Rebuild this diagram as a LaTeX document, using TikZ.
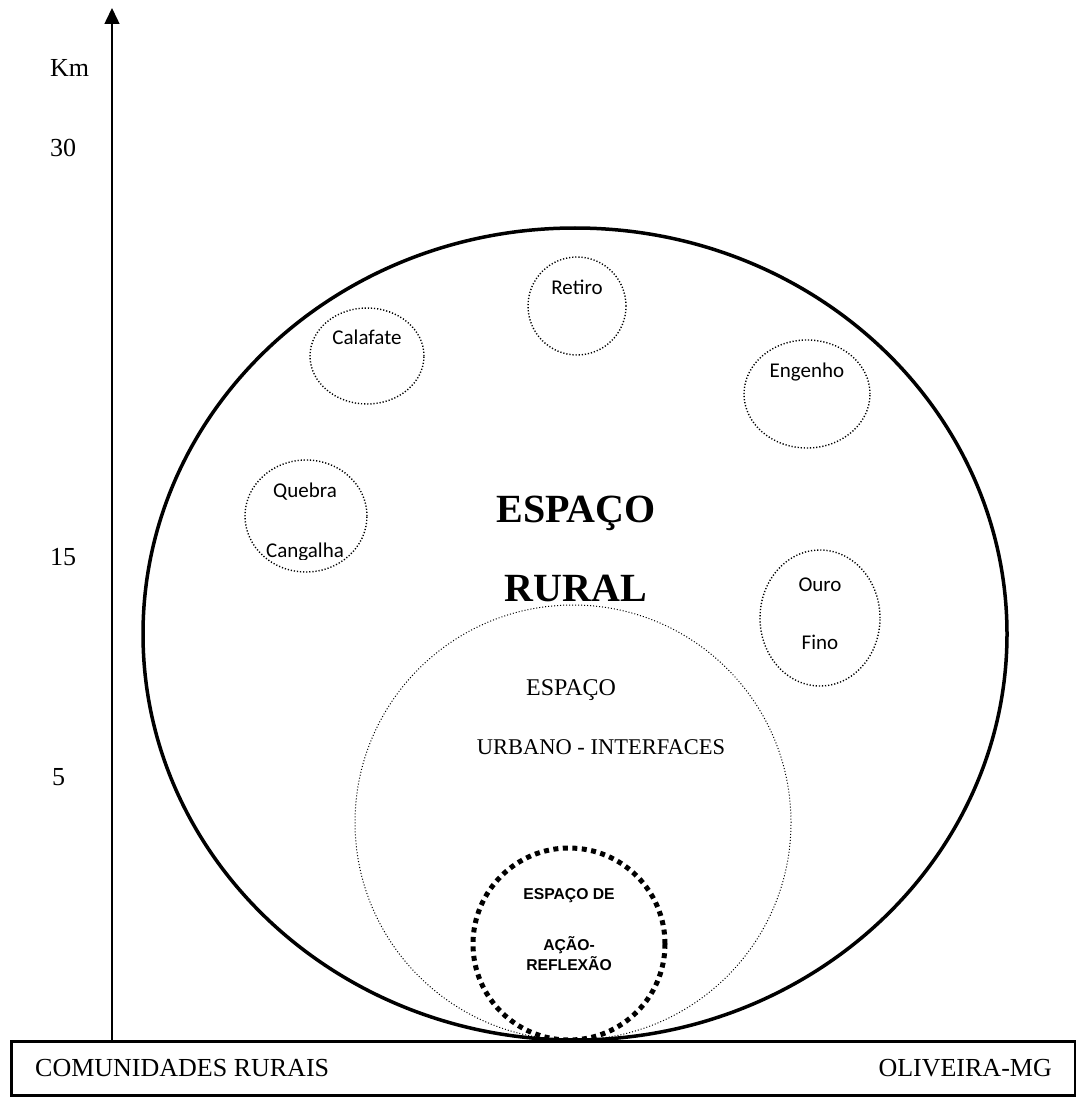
\documentclass[tikz,border=0pt]{standalone}
\usepackage{fontspec}
\setmainfont{Liberation Serif}
\newfontfamily\calibrifont{Carlito}
\newfontfamily\arialfont{Liberation Sans}
\usetikzlibrary{shapes.geometric,arrows.meta}
\tikzset{
  ring/.style={shape=ellipse, inner sep=0pt, draw},
  bigring/.style={ring, line width=3.5pt},
  smallring/.style={ring, line width=1.4pt, dash pattern=on 1.2pt off 1.9pt},
  urbring/.style={ring, line width=1pt, dash pattern=on 1pt off 2pt},
  actring/.style={ring, line width=5pt, dash pattern=on 5pt off 4.5pt},
  timeslbl/.style={font=\fontsize{26}{30}\selectfont, inner sep=0pt},
  bigtitle/.style={font=\fontsize{40}{46}\selectfont\bfseries, inner sep=0pt},
  urbtxt/.style={font=\fontsize{24}{28}\selectfont, inner sep=0pt},
  comtxt/.style={font=\calibrifont\fontsize{21}{24}\selectfont, inner sep=0pt},
  acttxt/.style={font=\arialfont\bfseries\fontsize{15.7}{18}\selectfont, inner sep=0pt},
}
\begin{document}
\begin{tikzpicture}[x=1pt,y=-1pt]
\useasboundingbox (0,0) rectangle (1075,1099);
% base box
\node[draw, line width=2.5pt, minimum width=1064pt, minimum height=54pt, inner sep=0pt, anchor=north west] (base) at (10,1040) {};
\node[timeslbl, anchor=west] (com) at (35,1068) {COMUNIDADES RURAIS};
\node[timeslbl, anchor=east] (oli) at (1052,1068) {OLIVEIRA-MG};
% axis
\coordinate (axbot) at (112,1040);
\coordinate (axtop) at (112,8);
\draw[line width=1.5pt, -{Triangle[width=15pt,length=16pt]}] (axbot) -- (axtop);
\node[timeslbl, anchor=west] (km) at (50,68) {Km};
\node[timeslbl, anchor=west] (l30) at (50,148) {30};
\node[timeslbl, anchor=west] (l15) at (50,557) {15};
\node[timeslbl, anchor=west] (l5) at (52,777) {5};
% big rural circle
\node[bigring, minimum width=864pt, minimum height=812pt] (rural) at (575,634) {};
\node[bigtitle] (esp1) at (576,513) {ESPAÇO};
\node[bigtitle] (rur) at (576,588) {RURAL};
% urban circle
\node[urbring, minimum width=436pt, minimum height=435pt] (urb) at (573,822.5) {};
\node[urbtxt] (esp2) at (571,690) {ESPAÇO};
\node[urbtxt, font=\fontsize{22.5}{26}\selectfont] (urbt) at (601,747) {URBANO - INTERFACES};
% action circle
\node[actring, minimum width=192pt, minimum height=192pt] (act) at (569,944) {};
\node[acttxt] (act1) at (569,896) {ESPAÇO DE};
\node[acttxt] (act2) at (569,945) {AÇÃO-};
\node[acttxt] (act3) at (569,964) {REFLEXÃO};
% communities
\node[smallring, minimum width=114pt, minimum height=96pt] (cal) at (367,356) {};
\node[comtxt] (calt) at (367,337) {Calafate};
\node[smallring, minimum width=98pt, minimum height=98pt] (ret) at (577,306) {};
\node[comtxt] (rett) at (577,287) {Retiro};
\node[smallring, minimum width=126pt, minimum height=108pt] (eng) at (807,394) {};
\node[comtxt] (engt) at (807,372) {Engenho};
\node[smallring, minimum width=120pt, minimum height=136pt] (ouro) at (820,618) {};
\node[comtxt] (ourt) at (820,585) {Ouro};
\node[comtxt] (fint) at (820,642) {Fino};
\node[smallring, minimum width=122pt, minimum height=112pt] (queb) at (306,516) {};
\node[comtxt] (quet) at (305,492) {Quebra};
\begin{scope}
\clip (200,520) rectangle (420,559);
\node[comtxt, anchor=base] (cant) at (305,557) {Cangalha};
\end{scope}
\end{tikzpicture}
\end{document}
